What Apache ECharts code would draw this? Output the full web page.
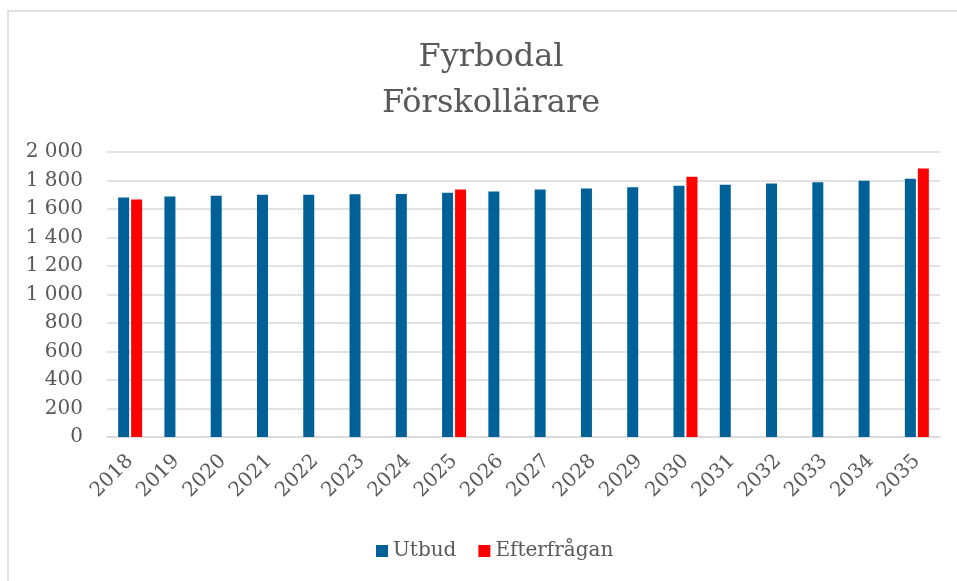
<!DOCTYPE html>
<html>
<head>
<meta charset="utf-8">
<script src="https://cdn.jsdelivr.net/npm/echarts@6/dist/echarts.min.js"></script>
<style>
  html, body { margin: 0; padding: 0; background: #fff; }
  #chart { width: 957px; height: 581px; }
</style>
</head>
<body>
<div id="chart"></div>
<script>
const years = ['2018', '2019', '2020', '2021', '2022', '2023', '2024', '2025', '2026',
    '2027', '2028', '2029', '2030', '2031', '2032', '2033', '2034', '2035']
const utbud = [1680, 1688, 1693, 1700, 1700, 1704, 1706, 1714, 1723,
    1737, 1744, 1753, 1763, 1770, 1779, 1788, 1798, 1812]
const efterfragan = [1667, null, null, null, null, null, null, 1737, null,
    null, null, null, 1826, null, null, null, null, 1884]
const titleLines = ['Fyrbodal', 'Förskollärare']

const font = 'DejaVu Serif'
const textColor = '#595959'

const chart = echarts.init(document.getElementById('chart'))

chart.setOption({
    animation: false,
    graphic: [{
        type: 'rect',
        shape: { x: 8, y: 11, width: 1200, height: 1000 },
        style: { fill: 'none', stroke: '#d9d9d9', lineWidth: 1.5 },
        silent: true,
    }],
    title: {
        text: titleLines.join('\n'),
        left: 486,
        textAlign: 'center',
        top: 30,
        textStyle: {
            fontFamily: font,
            fontSize: 32,
            fontWeight: 'normal',
            color: textColor,
            lineHeight: 46,
        },
    },
    legend: {
        data: ['Utbud', 'Efterfrågan'],
        bottom: 15,
        left: 371,
        icon: 'rect',
        itemWidth: 12,
        itemHeight: 12,
        itemGap: 22,
        textStyle: {
            fontFamily: font,
            fontSize: 20,
            color: textColor,
        },
    },
    grid: {
        left: 107,
        right: 17,
        top: 152,
        bottom: 144,
    },
    xAxis: {
        type: 'category',
        data: years,
        axisLine: { lineStyle: { color: '#d9d9d9', width: 1.5 } },
        axisTick: { show: false },
        axisLabel: {
            rotate: 45,
            fontFamily: font,
            fontSize: 20,
            color: textColor,
            margin: 21,
        },
    },
    yAxis: {
        type: 'value',
        min: 0,
        max: 2000,
        interval: 200,
        axisLine: { show: false },
        axisTick: { show: false },
        splitLine: { lineStyle: { color: '#d9d9d9', width: 1.5 } },
        axisLabel: {
            fontFamily: font,
            fontSize: 20,
            color: textColor,
            margin: 24,
            formatter: (v) => String(v).replace(/\B(?=(\d{3})+(?!\d))/g, ' '),
        },
    },
    series: [
        {
            name: 'Utbud',
            type: 'bar',
            data: utbud,
            barWidth: 11,
            barGap: '18%',
            itemStyle: { color: '#006098' },
        },
        {
            name: 'Efterfrågan',
            type: 'bar',
            data: efterfragan,
            barWidth: 11,
            itemStyle: { color: '#ff0000' },
        },
    ],
})
</script>
</body>
</html>
